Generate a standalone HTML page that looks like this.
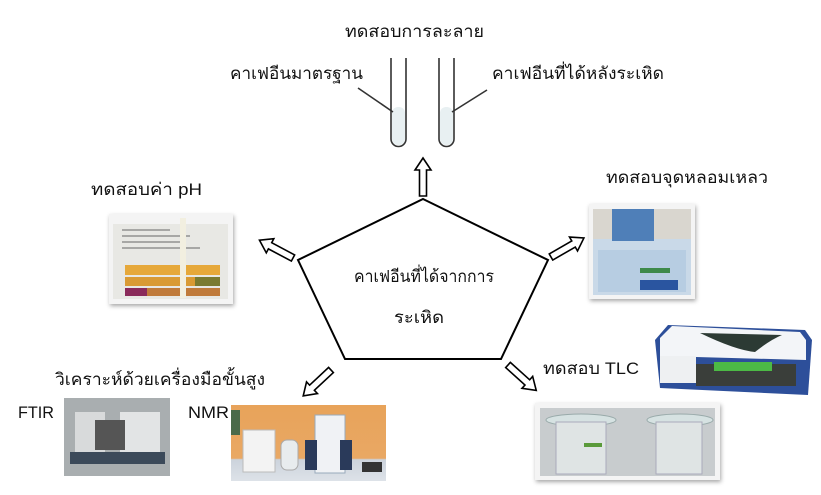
<!DOCTYPE html>
<html><head><meta charset="utf-8"><style>
html,body{margin:0;padding:0;background:#fff;}
svg{display:block;font-family:"Liberation Sans","DejaVu Sans","Noto Sans CJK SC",sans-serif;}
text{font-size:17px;fill:#111;}
</style></head><body>
<svg width="821" height="495" viewBox="0 0 821 495">
<defs>
<filter id="sh" x="-10%" y="-10%" width="120%" height="130%"><feDropShadow dx="1" dy="2" stdDeviation="2" flood-color="#000" flood-opacity="0.35"/></filter>
<linearGradient id="nmrw" x1="0" y1="0" x2="0" y2="1"><stop offset="0" stop-color="#e8a35a"/><stop offset="0.7" stop-color="#e9a864"/><stop offset="0.72" stop-color="#ccd3dc"/><stop offset="1" stop-color="#dde2e8"/></linearGradient>
</defs>
<!-- titles -->
<text x="345" y="37" textLength="139" lengthAdjust="spacingAndGlyphs">ทดสอบการละลาย</text>
<text x="230" y="79" textLength="133" lengthAdjust="spacingAndGlyphs">คาเฟอีนมาตรฐาน</text>
<text x="492" y="79" textLength="172" lengthAdjust="spacingAndGlyphs">คาเฟอีนที่ได้หลังระเหิด</text>
<!-- tubes -->
<rect x="392" y="107" width="13" height="38" rx="6" fill="#e8f0f2"/>
<rect x="440" y="107" width="13" height="38" rx="6" fill="#e8f0f2"/>
<path d="M391 58 V139 a7.5 7.5 0 0 0 15 0 V58" fill="none" stroke="#333" stroke-width="1.6"/>
<path d="M439 58 V139 a7.5 7.5 0 0 0 15 0 V58" fill="none" stroke="#333" stroke-width="1.6"/>
<line x1="358" y1="88" x2="393" y2="112" stroke="#333" stroke-width="1.6"/>
<line x1="487" y1="90" x2="452" y2="112" stroke="#333" stroke-width="1.6"/>
<!-- pentagon -->
<polygon points="423,199 548,260 501,359 345,359 298,260" fill="#fff" stroke="#000" stroke-width="2"/>
<text x="354" y="282" textLength="140" lengthAdjust="spacingAndGlyphs">คาเฟอีนที่ได้จากการ</text>
<text x="394" y="323" textLength="50" lengthAdjust="spacingAndGlyphs">ระเหิด</text>
<!-- arrows: hollow block arrow pointing +x, length 38 -->
<g fill="#fff" stroke="#000" stroke-width="1.6">
<polygon transform="translate(423,196) rotate(-90)" points="0,-3.5 26,-3.5 26,-8 38,0 26,8 26,3.5 0,3.5"/>
<polygon transform="translate(293,258) rotate(-152)" points="0,-3.5 26,-3.5 26,-8 38,0 26,8 26,3.5 0,3.5"/>
<polygon transform="translate(551,257) rotate(-30)" points="0,-3.5 26,-3.5 26,-8 38,0 26,8 26,3.5 0,3.5"/>
<polygon transform="translate(331,370) rotate(137)" points="0,-3.5 26,-3.5 26,-8 38,0 26,8 26,3.5 0,3.5"/>
<polygon transform="translate(508,365) rotate(42)" points="0,-3.5 26,-3.5 26,-8 38,0 26,8 26,3.5 0,3.5"/>
</g>
<!-- pH -->
<text x="91" y="195" textLength="111" lengthAdjust="spacingAndGlyphs">ทดสอบค่า pH</text>
<g filter="url(#sh)"><rect x="109" y="214" width="124" height="90" fill="#f4f4f4"/></g>
<rect x="113" y="224" width="115" height="75" fill="#e8e8e4"/>
<g stroke="#666" stroke-width="1"><line x1="122" y1="230" x2="170" y2="230"/><line x1="122" y1="236" x2="190" y2="236"/><line x1="122" y1="242" x2="180" y2="242"/><line x1="122" y1="248" x2="200" y2="248"/></g>
<g>
<rect x="125" y="265" width="95" height="10" fill="#e6a83a"/>
<rect x="125" y="277" width="95" height="9" fill="#d99a34"/>
<rect x="125" y="288" width="95" height="8" fill="#c07a3a"/>
<rect x="125" y="288" width="22" height="8" fill="#8a2a5a"/>
<rect x="195" y="277" width="25" height="9" fill="#7a7a30"/>
</g>
<rect x="180" y="218" width="6" height="80" fill="#f2efe0"/>
<!-- melting -->
<text x="606" y="183" textLength="162" lengthAdjust="spacingAndGlyphs">ทดสอบจุดหลอมเหลว</text>
<g filter="url(#sh)"><rect x="589" y="204" width="106" height="95" fill="#f4f4f4"/></g>
<rect x="593" y="209" width="98" height="86" fill="#c9d9e8"/>
<rect x="593" y="209" width="98" height="30" fill="#d9d6cf"/>
<rect x="612" y="209" width="42" height="32" fill="#4f7fb8"/>
<rect x="598" y="250" width="88" height="42" fill="#b7cde2"/>
<rect x="640" y="268" width="30" height="5" fill="#3e8a4a"/>
<rect x="640" y="280" width="38" height="10" fill="#2a55a0"/>
<!-- TLC -->
<text x="543" y="374" textLength="96" lengthAdjust="spacingAndGlyphs">ทดสอบ TLC</text>
<polygon points="655,340 668,325 805,330 812,340 808,395 660,388" fill="#2d4f9a"/>
<polygon points="660,338 672,326 800,332 806,340 806,360 660,356" fill="#f3f5f8"/>
<path d="M700 333 Q735 350 755 352 Q770 340 782 335 Z" fill="#2c3a34"/>
<rect x="660" y="356" width="36" height="27" fill="#eef0f2"/>
<rect x="696" y="364" width="100" height="22" fill="#3a3e3a"/>
<rect x="714" y="362" width="58" height="9" fill="#4cba45"/>
<g filter="url(#sh)"><rect x="535" y="403" width="185" height="77" fill="#f4f4f4"/></g>
<rect x="540" y="408" width="175" height="68" fill="#c8ccce"/>
<ellipse cx="581" cy="420" rx="35" ry="6" fill="#d6e2e2" stroke="#9aa" stroke-width="1"/>
<ellipse cx="680" cy="420" rx="33" ry="6" fill="#d6e2e2" stroke="#9aa" stroke-width="1"/>
<rect x="556" y="422" width="50" height="52" fill="#dfe4e4" stroke="#aab" stroke-width="1"/>
<rect x="656" y="422" width="46" height="52" fill="#dfe4e4" stroke="#aab" stroke-width="1"/>
<rect x="584" y="443" width="18" height="4" fill="#5a9a3a"/>
<!-- instruments -->
<text x="55" y="385" textLength="210" lengthAdjust="spacingAndGlyphs">วิเคราะห์ด้วยเครื่องมือขั้นสูง</text>
<text x="18" y="418" textLength="36" lengthAdjust="spacingAndGlyphs">FTIR</text>
<text x="188" y="418" textLength="41" lengthAdjust="spacingAndGlyphs">NMR</text>
<rect x="64" y="398" width="106" height="78" fill="#a9aeb0"/>
<rect x="75" y="412" width="30" height="40" fill="#d8dadb"/>
<rect x="120" y="412" width="40" height="40" fill="#e2e4e5"/>
<rect x="95" y="420" width="30" height="30" fill="#555"/>
<rect x="70" y="452" width="95" height="12" fill="#3c4a5a"/>
<rect x="231" y="405" width="155" height="76" fill="url(#nmrw)"/>
<rect x="231" y="410" width="9" height="25" fill="#4a6a4a"/>
<rect x="243" y="430" width="32" height="42" fill="#f3f3f3" stroke="#bbb" stroke-width="1"/>
<rect x="281" y="440" width="17" height="30" rx="6" fill="#e8ecee" stroke="#aaa" stroke-width="1"/>
<rect x="315" y="415" width="30" height="58" fill="#f0f2f5" stroke="#9ab" stroke-width="1"/>
<rect x="305" y="440" width="12" height="30" fill="#2a3a5a"/>
<rect x="340" y="440" width="12" height="30" fill="#2a3a5a"/>
<rect x="362" y="462" width="20" height="10" fill="#333"/>
</svg>
</body></html>
